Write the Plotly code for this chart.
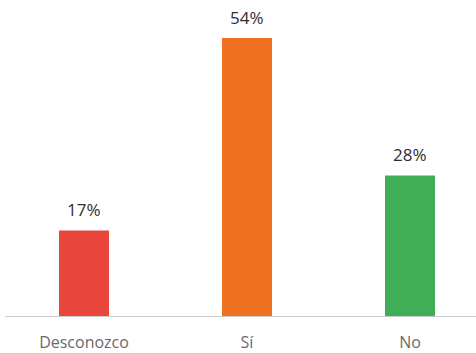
import plotly.graph_objects as go

categories = ["Desconozco", "Sí", "No"]
values = [17.0, 54.8, 27.8]
labels = ["17%", "54%", "28%"]
colors = ["#E8453C", "#EE7122", "#40AE57"]

fig = go.Figure()
fig.add_trace(go.Bar(
    x=categories, y=values, marker=dict(color=colors, line=dict(width=0)),
    width=50/163, hoverinfo="skip",
))
for c, v, t in zip(categories, values, labels):
    fig.add_annotation(x=c, y=v, text=t, showarrow=False, yanchor="bottom", yshift=7,
                       font=dict(family="Open Sans", size=17, color="#2E2E33"))

fig.update_layout(
    width=476, height=353, margin=dict(l=5, r=0, t=0, b=35.5),
    paper_bgcolor="white", plot_bgcolor="white", showlegend=False,
    xaxis=dict(range=[-79/163, -79/163 + 471/163], showgrid=False, zeroline=False,
               showline=False, ticks="", ticklabelstandoff=14, automargin=False,
               tickfont=dict(family="Open Sans", size=16, color="#6A6A6A")),
    yaxis=dict(range=[0, 317.5/5.1], visible=False, showgrid=False, zeroline=False,
               automargin=False),
    shapes=[dict(type="line", xref="paper", yref="y", x0=0, x1=1, y0=0, y1=0,
                 line=dict(color="#CCCCCC", width=2))],
)
fig.write_html("out.html", config={"displayModeBar": False},
               post_script="document.body.style.margin='0';document.body.style.overflow='hidden';")
